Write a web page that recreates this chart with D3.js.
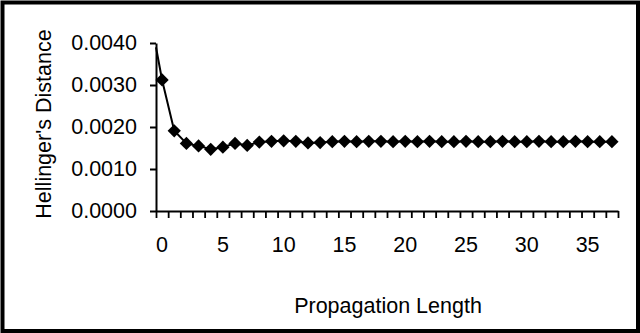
<!DOCTYPE html>
<html>
<head>
<meta charset="utf-8">
<script src="https://cdn.jsdelivr.net/npm/d3@7"></script>
<style>
  body { margin: 0; background: #fff; }
  text { font-family: "Liberation Sans", Arial, sans-serif; fill: #000; }
</style>
</head>
<body>
<div class="chart"></div>
<script>
// propagation length 0..37
const lengths = d3.range(0, 38);
const distances = [
  0.00312, 0.00191, 0.00161, 0.00155, 0.00147, 0.00152, 0.00161, 0.00156,
  0.00164, 0.00166, 0.00167, 0.00166, 0.00162, 0.00163, 0.00165, 0.00166,
  0.00165, 0.00166, 0.00166, 0.00165, 0.00166, 0.00165, 0.00166, 0.00165,
  0.00165, 0.00166, 0.00165, 0.00165, 0.00166, 0.00165, 0.00165, 0.00166,
  0.00165, 0.00165, 0.00166, 0.00165, 0.00165, 0.00165
];
// the line enters from the top of the value axis before the first marker
const leadValue = 0.0039;
const yTicks = [0, 0.001, 0.002, 0.003, 0.004];
const xLabels = [0, 5, 10, 15, 20, 25, 30, 35];

const W = 640, H = 333;
const plotLeft = 156, plotRight = 618, plotTop = 43, plotBottom = 211;

const svg = d3.select('.chart')
  .append('svg')
  .attr('width', W)
  .attr('height', H);

// frame
svg.append('rect')
  .attr('x', 2.5).attr('y', 2.5)
  .attr('width', W - 4.5).attr('height', H - 4.5)
  .attr('fill', '#fff')
  .attr('stroke', '#000')
  .attr('stroke-width', 4);

const x = d3.scaleBand()
  .domain(lengths)
  .range([plotLeft, plotRight])
  .padding(0);

// category boundaries for tick marks
const xb = d3.scaleLinear()
  .domain([0, lengths.length])
  .range([plotLeft, plotRight]);

const y = d3.scaleLinear()
  .domain([0, 0.004])
  .range([plotBottom, plotTop]);

const fs = '21.5px';

// x tick marks
svg.append('g')
  .attr('transform', `translate(0,${plotBottom})`)
  .call(d3.axisBottom(xb).tickValues(d3.range(0, lengths.length + 1)).tickSize(7).tickSizeOuter(0).tickFormat(''))
  .call(g => g.selectAll('line,path').attr('stroke', '#000').attr('stroke-width', 1.8));

// x labels
svg.append('g')
  .attr('transform', `translate(0,${plotBottom})`)
  .call(d3.axisBottom(x).tickValues(xLabels).tickSize(0).tickPadding(26))
  .call(g => g.select('.domain').remove())
  .call(g => g.selectAll('text').attr('font-size', fs).attr('font-family', '"Liberation Sans", Arial, sans-serif'));

// y axis
svg.append('g')
  .attr('transform', `translate(${plotLeft},0)`)
  .call(d3.axisLeft(y).tickValues(yTicks).tickSize(6).tickSizeOuter(0).tickPadding(13).tickFormat(d3.format('.4f')))
  .call(g => g.selectAll('line,path').attr('stroke', '#000').attr('stroke-width', 2))
  .call(g => g.selectAll('text').attr('font-size', fs).attr('font-family', '"Liberation Sans", Arial, sans-serif'));

const cx = d => x(d) + x.bandwidth() / 2;

const pts = [[plotLeft, y(leadValue)]].concat(lengths.map((d, i) => [cx(d), y(distances[i])]));

svg.append('path')
  .datum(pts)
  .attr('fill', 'none')
  .attr('stroke', '#000')
  .attr('stroke-width', 2)
  .attr('d', d3.line());

const diamond = d3.symbol().type(d3.symbolSquare).size(88);

svg.selectAll('.marker')
  .data(lengths)
  .enter()
  .append('path')
  .attr('class', 'marker')
  .attr('d', diamond)
  .attr('transform', (d, i) => `translate(${cx(d)},${y(distances[i])}) rotate(45)`)
  .attr('fill', '#000');

svg.append('text')
  .attr('x', 388)
  .attr('y', 313)
  .attr('text-anchor', 'middle')
  .attr('font-size', fs)
  .text('Propagation Length');

svg.append('text')
  .attr('transform', 'translate(51,124) rotate(-90)')
  .attr('text-anchor', 'middle')
  .attr('font-size', fs)
  .text("Hellinger's Distance");
</script>
</body>
</html>
